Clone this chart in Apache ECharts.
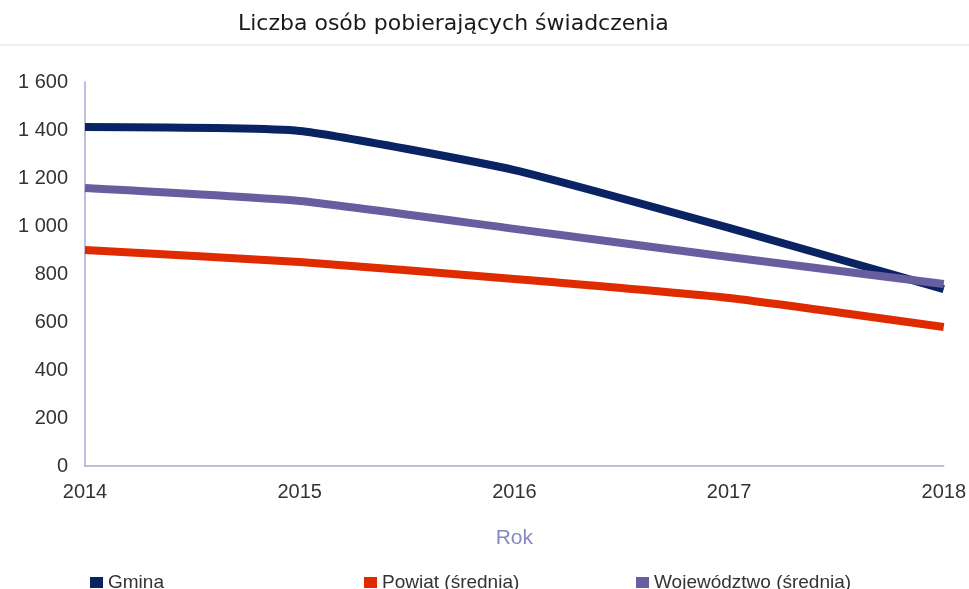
<!DOCTYPE html>
<html lang="pl">
<head>
    <meta charset="utf-8">
    <title>Liczba osób pobierających świadczenia</title>
    <script src="https://cdn.jsdelivr.net/npm/echarts@6/dist/echarts.min.js"></script>
    <style>
        html, body { margin: 0; padding: 0; background: #fff; }
        #main { width: 969px; height: 589px; }
    </style>
</head>
<body>
<div id="main"></div>
<script type="text/javascript">
    // dane
    var years = ['2014', '2015', '2016', '2017', '2018'];
    var gmina = [1412, 1396, 1233, 992, 737];
    var powiat = [900, 850, 779, 700, 579];
    var wojewodztwo = [1158, 1104, 988, 871, 758];

    var labelFont = "'Liberation Sans', Arial, sans-serif";

    var myChart = echarts.init(document.getElementById('main'));

    function legendAt(left, name) {
        return {
            left: left,
            top: 568,
            icon: 'rect',
            itemWidth: 13,
            itemHeight: 11,
            itemGap: 0,
            data: [name],
            selectedMode: false,
            textStyle: { fontFamily: labelFont, fontSize: 19, color: '#333' }
        };
    }

    option = {
        animation: false,
        title: {
            text: 'Liczba osób pobierających świadczenia',
            left: 233,
            top: 8,
            textStyle: { fontFamily: "'DejaVu Sans', Verdana, sans-serif", fontSize: 22, fontWeight: 'normal', color: '#1a1a1a' }
        },
        graphic: [{
            type: 'line',
            shape: { x1: 0, y1: 45, x2: 969, y2: 45 },
            style: { stroke: '#eceef8', lineWidth: 2 }
        }],
        legend: [
            legendAt(85, 'Gmina'),
            legendAt(359, 'Powiat (średnia)'),
            legendAt(631, 'Województwo (średnia)')
        ],
        grid: { left: 85, right: 24, top: 82, bottom: 123 },
        xAxis: {
            type: 'category',
            data: years,
            boundaryGap: false,
            name: 'Rok',
            nameLocation: 'middle',
            nameGap: 62,
            nameTextStyle: { fontFamily: labelFont, fontSize: 21, color: '#8a88c4' },
            axisLine: { lineStyle: { color: '#a8a8d4', width: 1.5 } },
            axisTick: { show: false },
            axisLabel: { fontFamily: labelFont, fontSize: 20, color: '#333', margin: 16 }
        },
        yAxis: {
            type: 'value',
            min: 0,
            max: 1600,
            interval: 200,
            axisLine: { show: true, lineStyle: { color: '#a8a8d4', width: 1.5 } },
            axisTick: { show: false },
            splitLine: { show: false },
            axisLabel: {
                fontFamily: labelFont, fontSize: 20, color: '#333', margin: 17,
                formatter: function (v) { return String(v).replace(/\B(?=(\d{3})+(?!\d))/g, ' '); }
            }
        },
        series: [
            { name: 'Gmina', type: 'line', data: gmina, smooth: 0.15, symbol: 'none', color: '#0a2463', lineStyle: { width: 8 }, z: 3 },
            { name: 'Powiat (średnia)', type: 'line', data: powiat, smooth: 0.15, symbol: 'none', color: '#e02a00', lineStyle: { width: 8 }, z: 2 },
            { name: 'Województwo (średnia)', type: 'line', data: wojewodztwo, smooth: 0.15, symbol: 'none', color: '#665e9e', lineStyle: { width: 8 }, z: 4 }
        ]
    };
    myChart.setOption(option);
</script>
</body>
</html>
